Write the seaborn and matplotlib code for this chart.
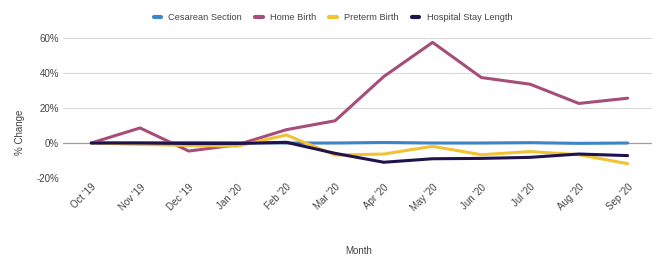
import matplotlib
matplotlib.use("Agg")
import matplotlib.pyplot as plt
import seaborn as sns
import pandas as pd
from matplotlib.lines import Line2D
from matplotlib.ticker import FuncFormatter

months = ["Oct '19", "Nov '19", "Dec '19", "Jan '20", "Feb '20", "Mar '20",
          "Apr '20", "May '20", "Jun '20", "Jul '20", "Aug '20", "Sep '20"]
cesarean = [0.0, 0.0, 0.3, 0.2, 0.0, 0.0, 0.3, 0.0, 0.0, 0.2, -0.2, 0.0]
home_birth = [0.0, 8.6, -4.6, -1.0, 7.6, 12.7, 38.0, 57.5, 37.4, 33.6, 22.6, 25.6]
preterm = [0.0, -0.8, -1.4, -1.8, 4.6, -6.9, -6.3, -1.9, -6.7, -4.9, -6.7, -11.8]
hospital = [0.0, 0.0, -0.3, -0.3, 0.4, -5.9, -11.0, -9.0, -8.8, -8.2, -6.3, -7.2]

series_names = ["Cesarean Section", "Home Birth", "Preterm Birth", "Hospital Stay Length"]
colors = ["#3d85c6", "#a64d79", "#f1c232", "#20124d"]

rows = []
for name, vals in zip(series_names, [cesarean, home_birth, preterm, hospital]):
    for i, (m, v) in enumerate(zip(months, vals)):
        rows.append({"idx": i, "Month": m, "Series": name, "Value": v})
df = pd.DataFrame(rows)

sns.set_theme(style="white")
plt.rcParams['font.family'] = ['Liberation Sans', 'DejaVu Sans']

fig = plt.figure(figsize=(6.66, 2.71), dpi=100)
ax = fig.add_axes([63/666, 1 - 178/271, (652-63)/666, (178-38)/271])

for y in [-20, 20, 40, 60]:
    ax.axhline(y, color="#d9d9d9", lw=0.8, zorder=0)
ax.axhline(0, color="#9e9e9e", lw=0.9, zorder=0)

sns.lineplot(data=df, x="idx", y="Value", hue="Series", hue_order=series_names,
             palette=colors, linewidth=2.2, ax=ax, legend=False, sort=False)

ax.set_xlim(-0.58, 11.5)
ax.set_ylim(-20, 60)
ax.set_yticks([-20, 0, 20, 40, 60])
ax.yaxis.set_major_formatter(FuncFormatter(lambda v, p: f"{int(v)}%"))
ax.set_xticks(range(len(months)))
ax.set_xticklabels(months, rotation=45, ha="right", rotation_mode="anchor")
ax.tick_params(axis="both", labelsize=7, colors="#444444", length=0, pad=3)
for s in ax.spines.values():
    s.set_visible(False)
ax.set_xlabel("")
ax.set_ylabel("")
ax.grid(False)

fig.text(359/666, 1 - 251/271, "Month", ha="center", va="center", fontsize=7, color="#444444")
fig.text(20/666, 1 - 132/271, "% Change", ha="center", va="center", rotation=90,
         fontsize=7, color="#444444")

handles = [Line2D([0], [0], color=c, lw=3) for c in colors]
fig.legend(handles, series_names, loc="center", bbox_to_anchor=(333/666, 1 - 18/271),
           ncol=4, frameon=False, fontsize=6.7, handlelength=0.8, handletextpad=0.8,
           columnspacing=1.4, labelcolor="#444444")

fig.savefig("out.png", dpi=100)
